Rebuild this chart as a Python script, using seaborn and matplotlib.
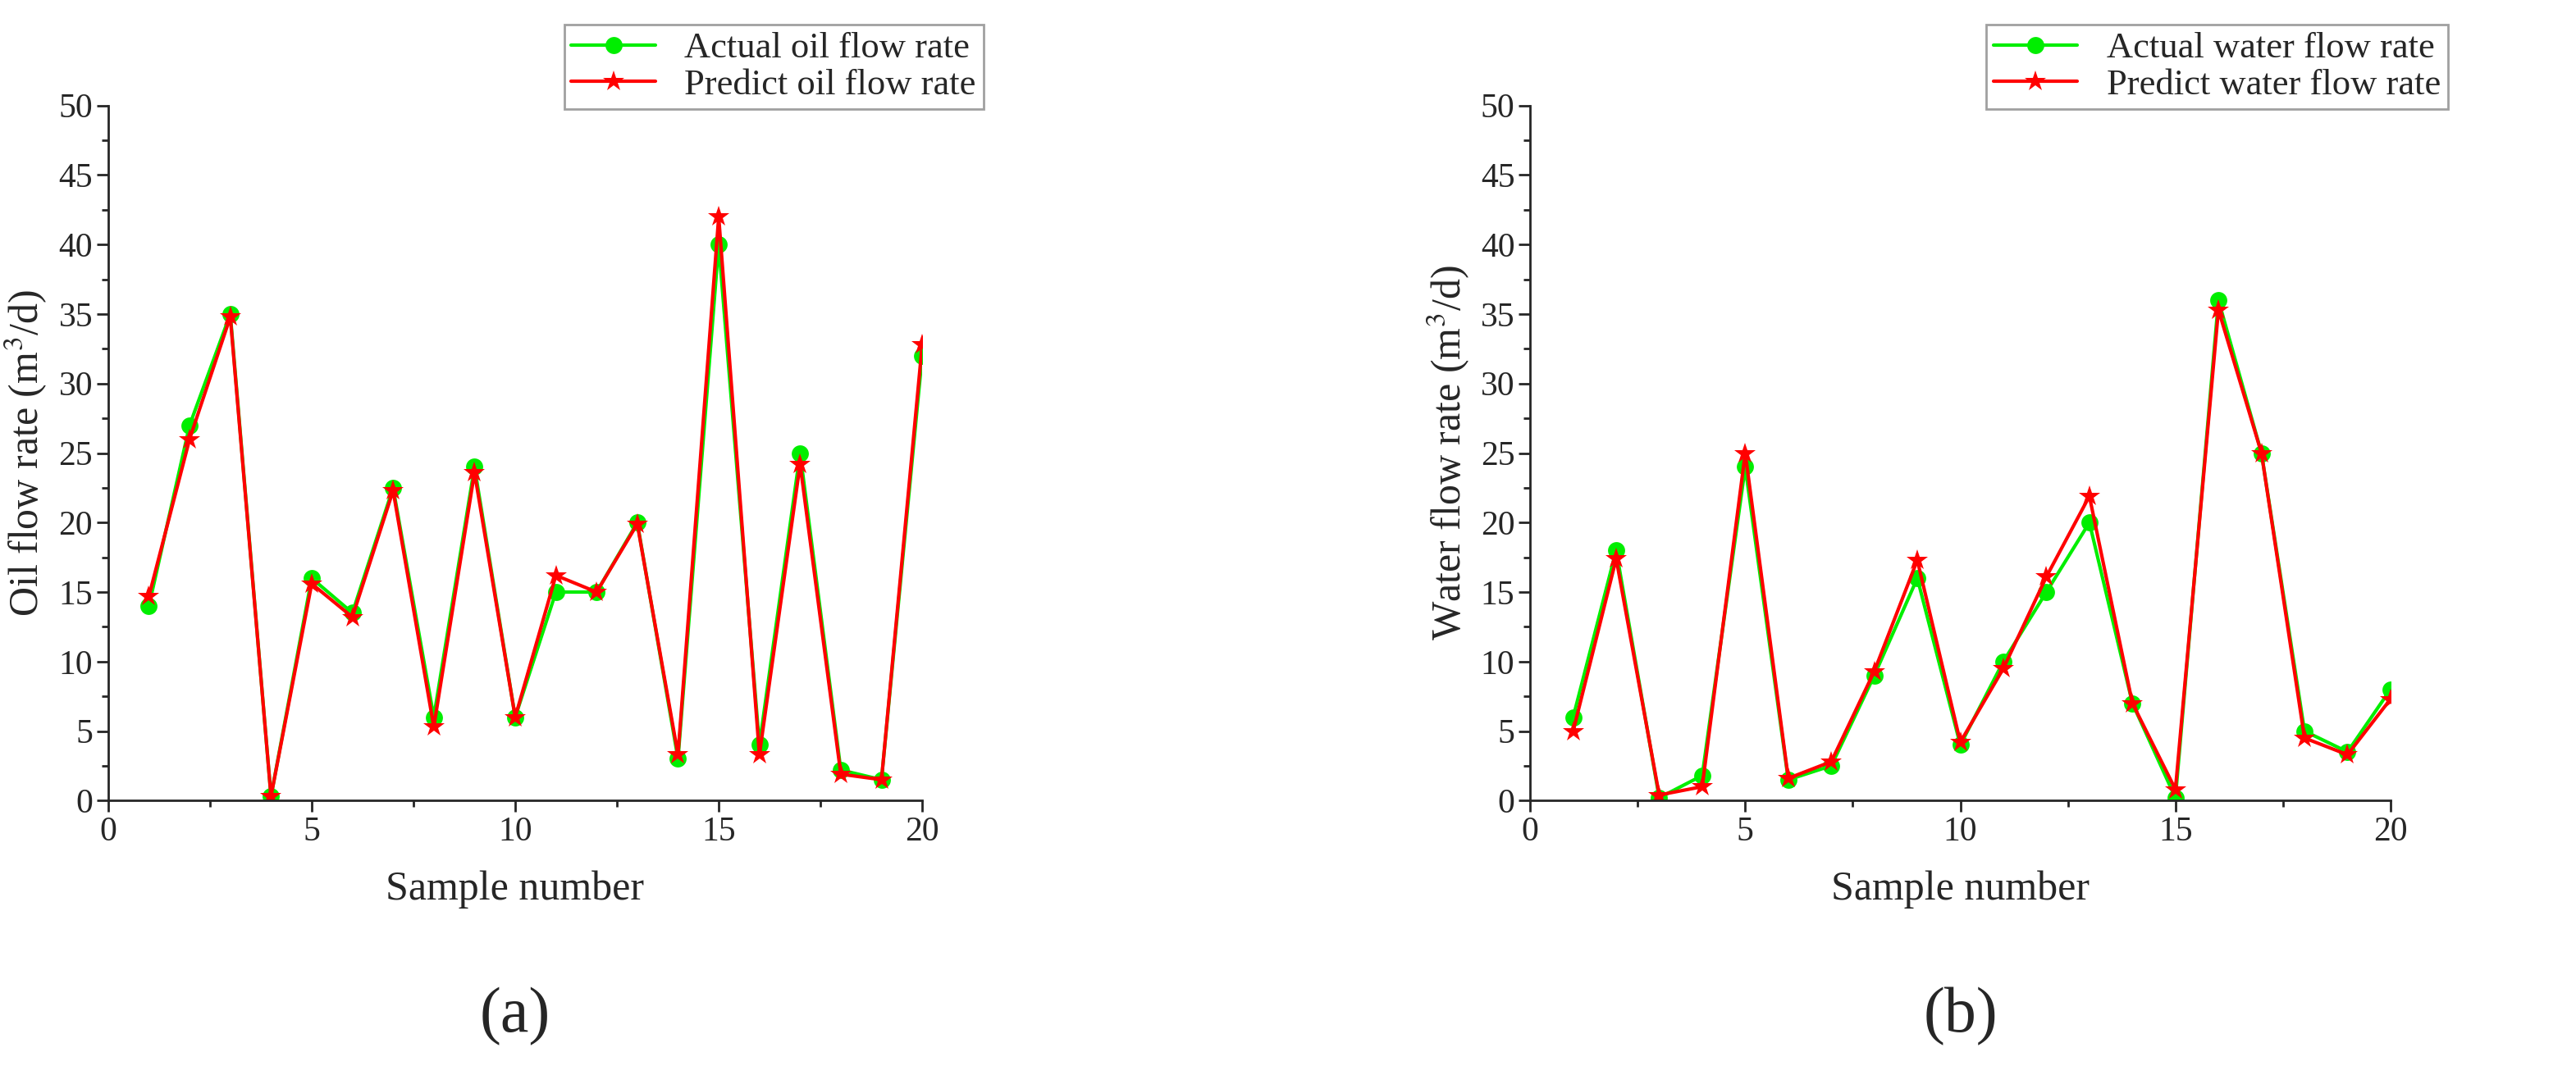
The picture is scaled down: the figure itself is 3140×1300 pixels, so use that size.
import numpy as np
import pandas as pd
import matplotlib
matplotlib.use('Agg')
import matplotlib.pyplot as plt
from matplotlib.ticker import MultipleLocator
import seaborn as sns

# --- data ---
samples = list(range(1, 21))
oil_actual = [14, 27, 35, 0.3, 16, 13.5, 22.5, 6, 24, 6, 15, 15, 20, 3, 40, 4, 25, 2.2, 1.5, 32]
oil_pred = [14.7, 26, 34.8, 0.3, 15.6, 13.2, 22.3, 5.3, 23.6, 6, 16.2, 15, 19.9, 3.3, 42, 3.3, 24.2, 1.9, 1.5, 32.8]
water_actual = [6, 18, 0.2, 1.8, 24, 1.5, 2.5, 9, 16, 4, 10, 15, 20, 7, 0.2, 36, 25, 5, 3.5, 8]
water_pred = [5, 17.4, 0.4, 1, 25, 1.6, 2.8, 9.3, 17.3, 4.2, 9.5, 16.1, 21.9, 7, 0.8, 35.3, 25, 4.5, 3.3, 7.3]

sns.set_style("ticks")
plt.rcParams['font.family'] = 'Liberation Serif'
plt.rcParams['mathtext.fontset'] = 'stix'

fig = plt.figure(figsize=(31.4, 13), dpi=100)
ax_a = fig.add_axes([0.042, 0.249, 0.316, 0.652])
ax_b = fig.add_axes([0.594, 0.249, 0.334, 0.652])

panels = [
    (ax_a, oil_actual, oil_pred, 'oil', 'Oil flow rate (m$^3$/d)', '(a)', (1.075, 0.995)),
    (ax_b, water_actual, water_pred, 'water', 'Water flow rate (m$^3$/d)', '(b)', (1.067, 0.995)),
]

for ax, actual, pred, name, ylabel, tag, legpos in panels:
    sns.lineplot(x=samples, y=actual, ax=ax, color='#00ee00', lw=3, marker='o',
                 markersize=15, markeredgewidth=0, label=f'Actual {name} flow rate')
    sns.lineplot(x=samples, y=pred, ax=ax, color='#ff0000', lw=3, marker='*',
                 markersize=19, markeredgewidth=0, label=f'Predict {name} flow rate')
    ax.set_xlim(0, 20)
    ax.set_ylim(0, 50)
    ax.xaxis.set_major_locator(MultipleLocator(5))
    ax.xaxis.set_minor_locator(MultipleLocator(2.5))
    ax.yaxis.set_major_locator(MultipleLocator(5))
    ax.yaxis.set_minor_locator(MultipleLocator(2.5))
    ax.tick_params(which='major', length=10, width=2, labelsize=30, direction='out')
    ax.tick_params(which='minor', length=6, width=2, direction='out')
    for s in ['left', 'bottom']:
        ax.spines[s].set_linewidth(2)
    sns.despine(ax=ax)
    ax.set_xlabel('Sample number', fontsize=36, labelpad=20)
    ax.set_ylabel(ylabel, fontsize=36, labelpad=8)
    leg = ax.legend(loc='lower right', bbox_to_anchor=legpos, fontsize=32,
                    frameon=True, fancybox=False, edgecolor='#888888',
                    handlelength=2.3, borderpad=0.2, labelspacing=0.1,
                    borderaxespad=0)
    leg.get_frame().set_linewidth(2)
    ax.text(0.5, -0.31, tag, transform=ax.transAxes, ha='center', va='center',
            fontsize=56, fontfamily='Liberation Serif')

fig.savefig('out.png', dpi=100)
